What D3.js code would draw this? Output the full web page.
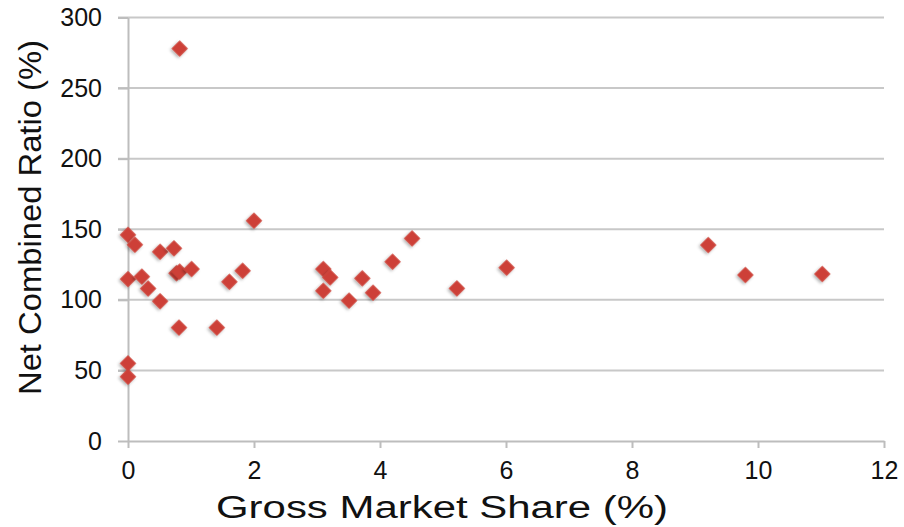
<!DOCTYPE html>
<html><head><meta charset="utf-8">
<script src="https://cdn.jsdelivr.net/npm/d3@7"></script>
<style>body{margin:0;background:#fff;} svg{display:block;}</style>
</head><body>
<script>
const marketShare = [0.82, 0.0, 0.11, 0.51, 0.73, 0.0, 0.22, 0.32, 0.51, 0.77, 0.82, 1.01, 0.81, 1.41, 1.61, 1.82, 2.0, 0.0, 0.0,
  3.10, 3.21, 3.10, 3.51, 3.72, 3.89, 4.20, 4.51, 5.22, 6.01, 9.21, 9.80, 11.02];
const combinedRatio = [278, 146, 139, 134, 136.5, 114.7, 116.4, 108, 99, 118.8, 120, 121.8, 80.3, 80.3, 112.8, 120.6, 156, 55, 45.5,
  121.8, 115.9, 106.4, 99.4, 115.2, 105, 127, 143.5, 108.1, 122.8, 138.8, 117.6, 118.3];
const xTicks = [0, 2, 4, 6, 8, 10, 12];
const yTicks = [0, 50, 100, 150, 200, 250, 300];
const xTitle = "Gross Market Share (%)";
const yTitle = "Net Combined Ratio (%)";

const W = 904, H = 527;
const svg = d3.select("body").append("svg").attr("width", W).attr("height", H);
const x = d3.scaleLinear().domain([0, 12]).range([128, 884]);
const y = d3.scaleLinear().domain([0, 300]).range([441, 17.5]);
const font = "'Liberation Sans', Arial, Helvetica, sans-serif";

// gridlines
svg.append("g").selectAll("line").data(yTicks.filter(d => d > 0)).join("line")
  .attr("x1", x(0) - 10).attr("x2", x(12)).attr("y1", d => y(d)).attr("y2", d => y(d))
  .attr("stroke", "#c8c8c8").attr("stroke-width", 2);

// y axis
const yAxis = svg.append("g").attr("transform", `translate(${x(0)},0)`)
  .call(d3.axisLeft(y).tickValues(yTicks).tickSize(10).tickSizeOuter(0).tickPadding(16));
yAxis.select(".domain").attr("stroke", "#bdbdbd").attr("stroke-width", 2);
yAxis.selectAll(".tick line").attr("stroke", "#bdbdbd").attr("stroke-width", 2);
yAxis.selectAll("text").attr("font-family", font).attr("font-size", 25).attr("fill", "#111");

// x axis
const xAxis = svg.append("g").attr("transform", `translate(0,${y(0)})`)
  .call(d3.axisBottom(x).tickValues(xTicks).tickSize(7).tickSizeOuter(0).tickPadding(13));
xAxis.select(".domain").attr("stroke", "#bdbdbd").attr("stroke-width", 2);
xAxis.selectAll(".tick line").attr("stroke", "#bdbdbd").attr("stroke-width", 2);
xAxis.selectAll("text").attr("font-family", font).attr("font-size", 25).attr("fill", "#111");

// titles
svg.append("text").attr("x", 216).attr("y", 518)
  .attr("font-family", font).attr("font-size", 31).attr("fill", "#111")
  .attr("textLength", 452).attr("lengthAdjust", "spacingAndGlyphs")
  .text(xTitle);
svg.append("text").attr("transform", `translate(41,395) rotate(-90)`)
  .attr("font-family", font).attr("font-size", 31).attr("fill", "#111")
  .attr("textLength", 355).attr("lengthAdjust", "spacingAndGlyphs")
  .text(yTitle);

// shadow filter
const defs = svg.append("defs");
const f = defs.append("filter").attr("id", "sh").attr("x", "-50%").attr("y", "-50%").attr("width", "200%").attr("height", "200%");
f.append("feDropShadow").attr("dx", 0).attr("dy", 2).attr("stdDeviation", 1.5).attr("flood-color", "#000").attr("flood-opacity", 0.3);

const pts = marketShare.map((d, i) => ({x: d, y: combinedRatio[i]}));
svg.append("g").selectAll("path").data(pts).join("path")
  .attr("d", d3.symbol(d3.symbolSquare, 135))
  .attr("transform", d => `translate(${x(d.x)},${y(d.y)}) rotate(45)`)
  .attr("fill", "#cd4138").attr("filter", "url(#sh)");
</script>
</body></html>
